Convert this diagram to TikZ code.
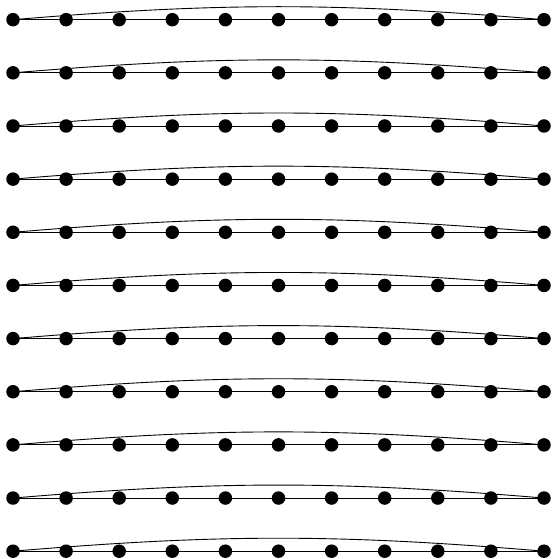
\documentclass[tikz,border=0pt]{standalone}
\begin{document}
\begin{tikzpicture}[x=1pt,y=1pt,
  dot/.style={circle,fill=black,draw=none,minimum size=13.5pt,inner sep=0pt},
  link/.style={black,line width=0.9pt}]
\useasboundingbox (0,0) rectangle (551,559);
\foreach \i in {0,...,10}{
  \foreach \j in {0,...,10}{
    \node[dot] (r\i-\j) at ({13+53.1*\j},{539.3-53.15*\i}) {};
  }
  \draw[link] (r\i-0.center) -- (r\i-10.center);
  \draw[link] (r\i-0.center) to[bend left=4.8] (r\i-10.center);
}
\end{tikzpicture}
\end{document}
